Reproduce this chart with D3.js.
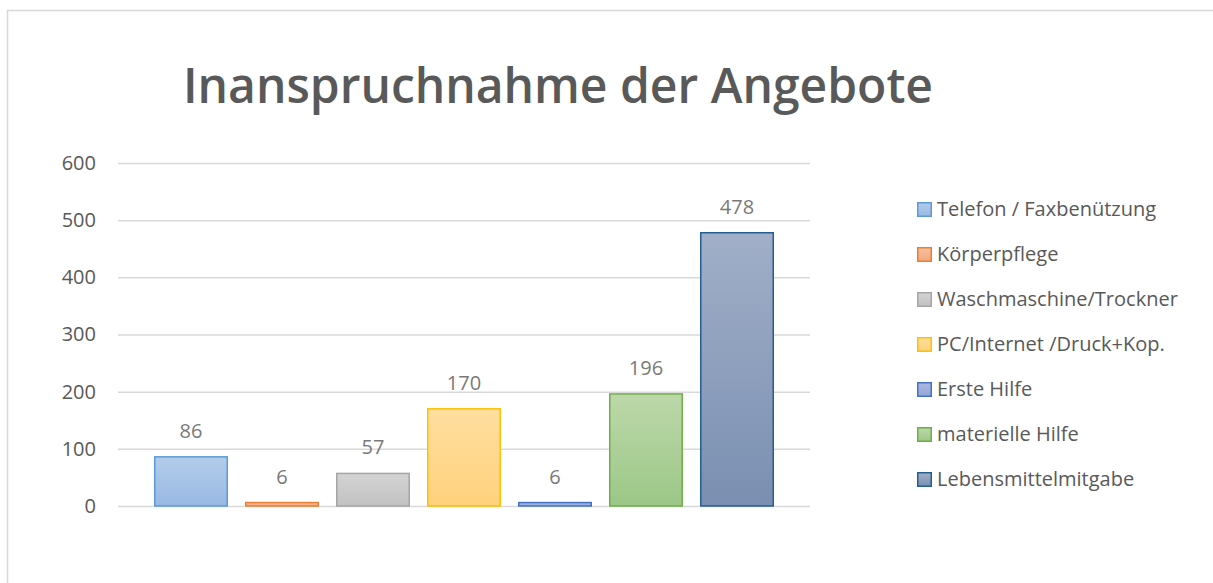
<!DOCTYPE html>
<html>
<head>
<meta charset="utf-8">
<script src="https://cdn.jsdelivr.net/npm/d3@7"></script>
<style>
    body { margin: 0; background: #fff; }
    svg text { font-family: "Open Sans", "Noto Sans", sans-serif; }
</style>
</head>
<body>
<div id="chart"></div>
<script>
// data
const categories = ["Telefon / Faxbenützung", "Körperpflege", "Waschmaschine/Trockner",
    "PC/Internet /Druck+Kop.", "Erste Hilfe", "materielle Hilfe", "Lebensmittelmitgabe"];
const values = [86, 6, 57, 170, 6, 196, 478];
const yTicks = [0, 100, 200, 300, 400, 500, 600];

// colours per series: stroke, gradient top, gradient bottom
const strokeColors = ["#5b9bd5", "#ed7d31", "#a5a5a5", "#ffc000", "#4472c4", "#70ad47", "#255e91"];
const topColors = ["#b3cceb", "#f6c2a3", "#d3d3d3", "#ffdea0", "#abb9e2", "#bcd8a9", "#a1afc8"];
const bottomColors = ["#99b9e3", "#f2a77e", "#c2c2c2", "#ffd27c", "#93a7d8", "#9cc788", "#7a8fb1"];

const W = 1213, H = 583;
const plot = {left: 118, right: 810, top: 163, bottom: 506};

const svg = d3.select("#chart").append("svg")
    .attr("width", W)
    .attr("height", H);

// chart border
svg.append("rect")
    .attr("x", 7.5).attr("y", 10.5)
    .attr("width", W).attr("height", H)
    .attr("fill", "none")
    .attr("stroke", "#d9d9d9")
    .attr("stroke-width", 1.5);

// title
let title = svg.append("text")
    .attr("x", 558).attr("y", 103)
    .attr("text-anchor", "middle")
    .attr("font-size", 48)
    .attr("font-weight", 600)
    .attr("fill", "#595959")
    .text("Inanspruchnahme der Angebote");

// scales
let y = d3.scaleLinear()
    .domain([0, 600])
    .range([plot.bottom, plot.top]);

let x = d3.scaleBand()
    .domain(categories)
    .range([154, 774])
    .paddingInner(0.187)
    .paddingOuter(0);

// gridlines + y labels
let yAxis = d3.axisLeft(y)
    .tickValues(yTicks)
    .tickSize(-(plot.right - plot.left))
    .tickPadding(22);

let yGroup = svg.append("g")
    .attr("transform", `translate(${plot.left}, 0)`)
    .call(yAxis);
yGroup.select(".domain").remove();
yGroup.selectAll(".tick line")
    .attr("stroke", "#d9d9d9")
    .attr("stroke-width", 1.5);
yGroup.selectAll(".tick text")
    .attr("font-size", 20)
    .attr("fill", "#595959")
    .style("font-family", "'Open Sans', 'Noto Sans', sans-serif");

// gradients
let defs = svg.append("defs");
categories.forEach((c, i) => {
    let g = defs.append("linearGradient")
        .attr("id", "grad" + i)
        .attr("x1", 0).attr("y1", 0).attr("x2", 0).attr("y2", 1);
    g.append("stop").attr("offset", "0%").attr("stop-color", topColors[i]);
    g.append("stop").attr("offset", "100%").attr("stop-color", bottomColors[i]);
});

let data = categories.map((c, i) => ({cat: c, val: values[i], i: i}));

// bars
svg.selectAll("rect.bar")
    .data(data)
    .enter()
    .append("rect")
    .attr("class", "bar")
    .attr("x", d => x(d.cat) + 0.75)
    .attr("width", x.bandwidth() - 1.5)
    .attr("y", d => y(d.val))
    .attr("height", d => y(0) - y(d.val))
    .attr("fill", d => `url(#grad${d.i})`)
    .attr("stroke", d => strokeColors[d.i])
    .attr("stroke-width", 1.5);

// data labels
svg.selectAll("text.lbl")
    .data(data)
    .enter()
    .append("text")
    .attr("class", "lbl")
    .attr("x", d => x(d.cat) + x.bandwidth() / 2)
    .attr("y", d => y(d.val) - 19)
    .attr("text-anchor", "middle")
    .attr("font-size", 20)
    .attr("fill", "#7a7a7a")
    .text(d => d.val);

// legend
let legend = svg.selectAll("g.leg")
    .data(data)
    .enter()
    .append("g")
    .attr("class", "leg")
    .attr("transform", d => `translate(917, ${209 + d.i * 45})`);

legend.append("rect")
    .attr("x", 0.75).attr("y", -6.25)
    .attr("width", 13.5).attr("height", 13.5)
    .attr("fill", d => `url(#grad${d.i})`)
    .attr("stroke", d => strokeColors[d.i])
    .attr("stroke-width", 1.5);

legend.append("text")
    .attr("x", 20).attr("y", 0)
    .attr("dy", "0.35em")
    .attr("font-size", 20)
    .attr("fill", "#595959")
    .text(d => d.cat);
</script>
</body>
</html>
